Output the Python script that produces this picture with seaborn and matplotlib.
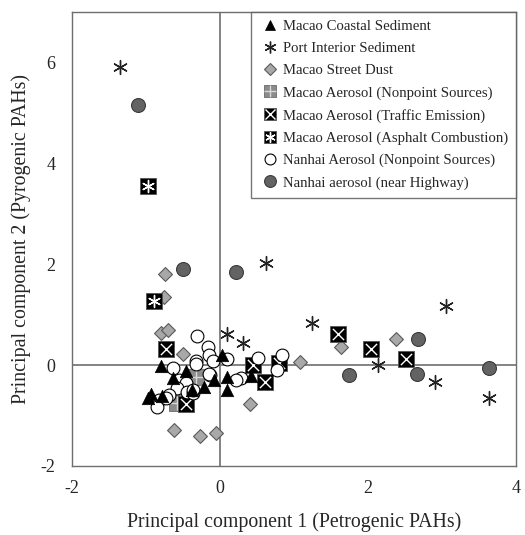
import numpy as np
import pandas as pd
import matplotlib
matplotlib.use("Agg")
import matplotlib.pyplot as plt
import seaborn as sns
from matplotlib.lines import Line2D

# ---------------- data ----------------
coastal_x = [-0.97, -0.93, -0.80, -0.78, -0.64, -0.46, -0.38, -0.22, -0.08, 0.03, 0.10, 0.10, 0.42]
coastal_y = [-0.66, -0.58, -0.02, -0.62, -0.26, -0.12, -0.50, -0.43, -0.30, 0.20, -0.23, -0.50, -0.22]

port_x = [-1.35, 0.62, 0.09, 0.31, 1.24, 3.06, 2.13, 2.90, 3.64]
port_y = [5.91, 2.03, 0.61, 0.44, 0.84, 1.17, 0.00, -0.34, -0.66]

dust_x = [-0.74, -0.76, -0.79, -0.70, -0.50, 0.40, -0.62, -0.27, -0.05, 1.08, 1.63, 2.38]
dust_y = [1.80, 1.35, 0.63, 0.69, 0.22, -0.78, -1.29, -1.41, -1.35, 0.07, 0.35, 0.52]

aer_np_x = [-0.33, -0.58]
aer_np_y = [-0.23, -0.76]

traffic_x = [-0.73, -0.46, 0.44, 0.61, 0.80, 1.60, 2.04, 2.51]
traffic_y = [0.31, -0.78, 0.01, -0.34, 0.05, 0.61, 0.32, 0.12]

asphalt_x = [-0.97, -0.89]
asphalt_y = [3.55, 1.27]

nanhai_np_x = [-0.31, -0.16, -0.15, -0.32, -0.09, 0.10, -0.63, -0.13, -0.55, -0.46, -0.58,
               -0.44, -0.37, -0.69, -0.82, -0.85, -0.73, 0.28, 0.21, 0.52, 0.77, 0.84,
               -0.33, -0.15, -0.37]
nanhai_np_y = [0.57, 0.35, 0.20, 0.09, 0.09, 0.11, -0.05, -0.20, -0.30, -0.36, -0.46,
               -0.53, -0.56, -0.59, -0.69, -0.83, -0.66, -0.26, -0.30, 0.13, -0.10, 0.20,
               0.03, -0.17, -0.50]

highway_x = [-1.11, -0.50, 0.21, 1.74, 2.67, 2.66, 3.63]
highway_y = [5.16, 1.91, 1.85, -0.20, 0.52, -0.18, -0.05]

labels = ["Macao Coastal Sediment", "Port Interior Sediment", "Macao Street Dust",
          "Macao Aerosol (Nonpoint Sources)", "Macao Aerosol (Traffic Emission)",
          "Macao Aerosol (Asphalt Combustion)", "Nanhai Aerosol (Nonpoint Sources)",
          "Nanhai aerosol (near Highway)"]
x_ticks = [-2, 0, 2, 4]
y_ticks = [-2, 0, 2, 4, 6]

def frame(xs, ys, lab):
    return pd.DataFrame({"pc1": xs, "pc2": ys, "group": lab})

df = pd.concat([
    frame(coastal_x, coastal_y, labels[0]),
    frame(port_x, port_y, labels[1]),
    frame(dust_x, dust_y, labels[2]),
    frame(aer_np_x, aer_np_y, labels[3]),
    frame(traffic_x, traffic_y, labels[4]),
    frame(asphalt_x, asphalt_y, labels[5]),
    frame(nanhai_np_x, nanhai_np_y, labels[6]),
    frame(highway_x, highway_y, labels[7]),
], ignore_index=True)

# ---------------- style ----------------
sns.set_theme(style="white")
plt.rcParams["font.family"] = ["Liberation Serif", "DejaVu Serif"]
plt.rcParams["xtick.direction"] = "in"
plt.rcParams["ytick.direction"] = "in"

fig = plt.figure(figsize=(5.25, 5.35), dpi=100)
ax = fig.add_axes([0.137, 0.129, 0.846, 0.849])

ax.axhline(0, color="#7a7a7a", lw=1.3, zorder=1)
ax.axvline(0, color="#7a7a7a", lw=1.3, zorder=1)

asterisk = (6, 2, 0)

styles = {
    labels[0]: [dict(marker="^", s=80, color="black", edgecolor="black", linewidth=0.5)],
    labels[1]: [dict(marker=asterisk, s=100, color="#222222", linewidth=1.0)],
    labels[2]: [dict(marker="D", s=50, color="#a8a8a8", edgecolor="#5a5a5a", linewidth=0.8)],
    labels[3]: [dict(marker="s", s=120, color="#8c8c8c", edgecolor="#6a6a6a", linewidth=0.6),
                dict(marker="+", s=90, color="#d8d8d8", linewidth=1.0)],
    labels[4]: [dict(marker="s", s=120, color="black", edgecolor="#555555", linewidth=0.6),
                dict(marker="x", s=65, color="white", linewidth=1.0)],
    labels[5]: [dict(marker="s", s=120, color="black", edgecolor="#555555", linewidth=0.6),
                dict(marker=asterisk, s=75, color="white", linewidth=1.0)],
    labels[6]: [dict(marker="o", s=85, color="white", edgecolor="black", linewidth=0.8)],
    labels[7]: [dict(marker="o", s=100, color="#636363", edgecolor="#3a3a3a", linewidth=0.8)],
}

order_draw = [labels[2], labels[1], labels[7], labels[3], labels[4], labels[5], labels[6], labels[0]]
z = 3
for lab in order_draw:
    sub = df[df["group"] == lab]
    for st in styles[lab]:
        sns.scatterplot(data=sub, x="pc1", y="pc2", ax=ax, legend=False, zorder=z, **st)
        z += 1

ax.set_xlim(-2, 4)
ax.set_ylim(-2, 7)
ax.set_xticks(x_ticks)
ax.set_yticks(y_ticks)
ax.set_xticklabels([str(t) for t in x_ticks], fontsize=13)
ax.set_yticklabels([str(t) for t in y_ticks], fontsize=13)
ax.tick_params(axis="both", length=6, width=0.8, color="#555555")
ax.tick_params(axis="y", pad=12)
ax.tick_params(axis="x", pad=10)
for sp in ax.spines.values():
    sp.set_color("#6e6e6e")
    sp.set_linewidth(1.0)

ax.set_xlabel("Principal component 1 (Petrogenic PAHs)", fontsize=14.3, labelpad=11)
ax.set_ylabel("Principal component 2 (Pyrogenic PAHs)", fontsize=14.3, labelpad=7)

# legend handles
def mk(st):
    kw = dict(linestyle="none", marker=st["marker"], markersize=np.sqrt(st["s"]) * 0.85,
              markerfacecolor=st["color"],
              markeredgecolor=st.get("edgecolor", st["color"]),
              markeredgewidth=st.get("linewidth", 1.0))
    return Line2D([], [], **kw)

handles = []
for lab in labels:
    hs = [mk(st) for st in styles[lab]]
    handles.append(tuple(hs) if len(hs) > 1 else hs[0])

leg = ax.legend(handles, labels, loc="upper right", bbox_to_anchor=(1.0, 1.0),
                borderaxespad=0.0, fontsize=10.6, frameon=True, fancybox=False,
                handlelength=1.4, handletextpad=0.2, labelspacing=0.6,
                borderpad=0.55, edgecolor="#555555")
leg.get_frame().set_linewidth(1.0)

fig.savefig("out.png", dpi=100)
